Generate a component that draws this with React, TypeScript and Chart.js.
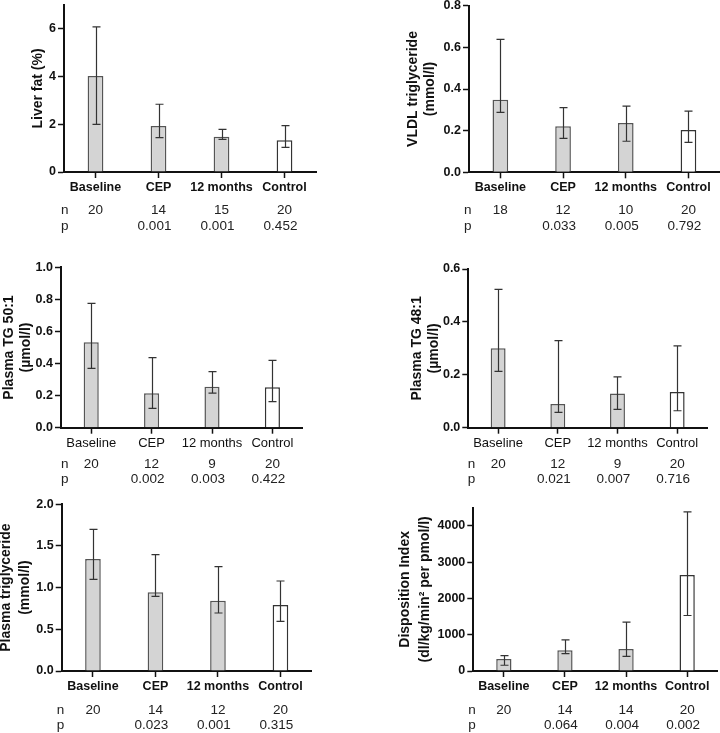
import React, { useEffect, useRef } from "react";
import { Chart, registerables } from "chart.js";

Chart.register(...registerables);

// ---------- DATA ----------
const categories = ["Baseline", "CEP", "12 months", "Control"];

const liverFatMean = [4.02, 1.93, 1.48, 1.33];
const liverFatHigh = [6.08, 2.84, 1.79, 1.94];
const liverFatLow = [2.0, 1.44, 1.37, 1.03];
const liverFatN = ["20", "14", "15", "20"];
const liverFatP = ["", "0.001", "0.001", "0.452"];
const liverFatTicks = [0, 2, 4, 6];

const vldlMean = [0.348, 0.221, 0.237, 0.203];
const vldlHigh = [0.638, 0.311, 0.318, 0.294];
const vldlLow = [0.288, 0.163, 0.149, 0.144];
const vldlN = ["18", "12", "10", "20"];
const vldlP = ["", "0.033", "0.005", "0.792"];
const vldlTicks = [0, 0.2, 0.4, 0.6, 0.8];

const tg501Mean = [0.532, 0.214, 0.256, 0.252];
const tg501High = [0.775, 0.437, 0.349, 0.42];
const tg501Low = [0.37, 0.12, 0.216, 0.162];
const tg501N = ["20", "12", "9", "20"];
const tg501P = ["", "0.002", "0.003", "0.422"];
const tg501Ticks = [0, 0.2, 0.4, 0.6, 0.8, 1.0];

const tg481Mean = [0.3, 0.09, 0.129, 0.135];
const tg481High = [0.523, 0.329, 0.192, 0.309];
const tg481Low = [0.213, 0.058, 0.069, 0.064];
const tg481N = ["20", "12", "9", "20"];
const tg481P = ["", "0.021", "0.007", "0.716"];
const tg481Ticks = [0, 0.2, 0.4, 0.6];

const plasmaTgMean = [1.344, 0.944, 0.844, 0.792];
const plasmaTgHigh = [1.7, 1.396, 1.252, 1.08];
const plasmaTgLow = [1.1, 0.896, 0.696, 0.596];
const plasmaTgN = ["20", "14", "12", "20"];
const plasmaTgP = ["", "0.023", "0.001", "0.315"];
const plasmaTgTicks = [0, 0.5, 1.0, 1.5, 2.0];

const diMean = [332, 573, 608, 2645];
const diHigh = [423, 857, 1346, 4387];
const diLow = [158, 479, 405, 1530];
const diN = ["20", "14", "14", "20"];
const diP = ["", "0.064", "0.004", "0.002"];
const diTicks = [0, 1000, 2000, 3000, 4000];

// ---------- STYLE ----------
const FONT = '"Liberation Sans", Arial, Helvetica, sans-serif';
const INK = "#111111";
const barFills = ["#d4d4d4", "#d4d4d4", "#d4d4d4", "#ffffff"];
const barBorders = ["#555555", "#555555", "#555555", "#333333"];

type PanelCfg = {
  title: string[];
  titleLH: number;
  titleC1: number;
  mean: number[];
  high: number[];
  low: number[];
  n: string[];
  p: string[];
  yMax: number;
  yTicks: number[];
  yFmt: (v: number) => string;
  boldCats: boolean;
  canvas: { left: number; top: number; w: number; h: number };
  area: { l: number; t: number; r: number; b: number };
  nLabelDx: number;
  nDy: number;
  pDy: number;
};

const f1 = (v: number) => v.toFixed(1);
const f0 = (v: number) => String(Math.round(v));

const panels: PanelCfg[] = [
  {
    title: ["Liver fat (%)"], titleLH: 16.8, titleC1: 38.5,
    mean: liverFatMean, high: liverFatHigh, low: liverFatLow, n: liverFatN, p: liverFatP,
    yMax: 7, yTicks: liverFatTicks, yFmt: f0, boldCats: true,
    canvas: { left: 0, top: -10, w: 360, h: 250 },
    area: { l: 64, t: 5, r: 316, b: 172 },
    nLabelDx: -3, nDy: 38.7, pDy: 54.7,
  },
  {
    title: ["VLDL triglyceride", "(mmol/l)"], titleLH: 17, titleC1: 413.5,
    mean: vldlMean, high: vldlHigh, low: vldlLow, n: vldlN, p: vldlP,
    yMax: 0.8, yTicks: vldlTicks, yFmt: f1, boldCats: true,
    canvas: { left: 360, top: -10, w: 380, h: 250 },
    area: { l: 469, t: 5.7, r: 719.8, b: 172.3 },
    nLabelDx: -5, nDy: 38.4, pDy: 54.4,
  },
  {
    title: ["Plasma TG 50:1", "(µmol/l)"], titleLH: 16.5, titleC1: 9.5,
    mean: tg501Mean, high: tg501High, low: tg501Low, n: tg501N, p: tg501P,
    yMax: 1.0, yTicks: tg501Ticks, yFmt: f1, boldCats: false,
    canvas: { left: 0, top: 240, w: 360, h: 250 },
    area: { l: 61, t: 267.3, r: 302.6, b: 427.7 },
    nLabelDx: 0, nDy: 36.3, pDy: 52,
  },
  {
    title: ["Plasma TG 48:1", "(µmol/l)"], titleLH: 17, titleC1: 417.2,
    mean: tg481Mean, high: tg481High, low: tg481Low, n: tg481N, p: tg481P,
    yMax: 0.6, yTicks: tg481Ticks, yFmt: f1, boldCats: false,
    canvas: { left: 360, top: 240, w: 360, h: 250 },
    area: { l: 468.3, t: 269, r: 707, b: 427.7 },
    nLabelDx: -0.5, nDy: 36.3, pDy: 52,
  },
  {
    title: ["Plasma triglyceride", "(mmol/l)"], titleLH: 19.5, titleC1: 6,
    mean: plasmaTgMean, high: plasmaTgHigh, low: plasmaTgLow, n: plasmaTgN, p: plasmaTgP,
    yMax: 2.0, yTicks: plasmaTgTicks, yFmt: f1, boldCats: true,
    canvas: { left: -10, top: 490, w: 370, h: 243 },
    area: { l: 61.7, t: 504.3, r: 311.7, b: 671 },
    nLabelDx: -5, nDy: 39, pDy: 54,
  },
  {
    title: ["Disposition Index", "(dl/kg/min² per pmol/l)"], titleLH: 20, titleC1: 405,
    mean: diMean, high: diHigh, low: diLow, n: diN, p: diP,
    yMax: 4500, yTicks: diTicks, yFmt: f0, boldCats: true,
    canvas: { left: 360, top: 490, w: 380, h: 243 },
    area: { l: 473.3, t: 507.7, r: 717.7, b: 671 },
    nLabelDx: -5, nDy: 39, pDy: 54,
  },
];

function Panel({ cfg }: { cfg: PanelCfg }) {
  const ref = useRef<HTMLCanvasElement | null>(null);

  useEffect(() => {
    if (!ref.current) return;
    const { canvas, area } = cfg;
    const yAxisWidth = area.l - canvas.left;
    const xAxisHeight = canvas.top + canvas.h - area.b;
    const padTop = area.t - canvas.top;
    const padRight = canvas.left + canvas.w - area.r;
    const titlePad = cfg.titleC1 - canvas.left - cfg.titleLH / 2;

    const errorBars = {
      id: "errorBars",
      afterDatasetsDraw(chart: any) {
        const { ctx, scales } = chart;
        const xs = scales.x;
        const ys = scales.y;
        ctx.save();
        ctx.strokeStyle = "#333333";
        ctx.lineWidth = 1.2;
        const cap = 4;
        cfg.mean.forEach((_, i) => {
          const x = Math.round(xs.getPixelForValue(i)) + 0.5;
          const yh = ys.getPixelForValue(cfg.high[i]);
          const yl = ys.getPixelForValue(cfg.low[i]);
          ctx.beginPath();
          ctx.moveTo(x, yh);
          ctx.lineTo(x, yl);
          ctx.moveTo(x - cap, yh);
          ctx.lineTo(x + cap, yh);
          ctx.moveTo(x - cap, yl);
          ctx.lineTo(x + cap, yl);
          ctx.stroke();
        });
        ctx.restore();
      },
    };

    const npRows = {
      id: "npRows",
      afterDraw(chart: any) {
        const { ctx, scales, chartArea } = chart;
        const xs = scales.x;
        const base = chartArea.bottom;
        ctx.save();
        ctx.fillStyle = "#222222";
        ctx.font = `13.5px ${FONT}`;
        ctx.textBaseline = "middle";
        ctx.textAlign = "left";
        ctx.fillText("n", chartArea.left + cfg.nLabelDx, base + cfg.nDy);
        ctx.fillText("p", chartArea.left + cfg.nLabelDx, base + cfg.pDy);
        ctx.textAlign = "center";
        categories.forEach((_, i) => {
          const x = xs.getPixelForValue(i);
          ctx.fillText(cfg.n[i], x, base + cfg.nDy);
          if (cfg.p[i]) ctx.fillText(cfg.p[i], x - 4, base + cfg.pDy);
        });
        ctx.restore();
      },
    };

    const chart = new Chart(ref.current, {
      type: "bar",
      data: {
        datasets: [
          {
            data: cfg.mean.map((v, i) => ({ x: i, y: v })),
            backgroundColor: barFills,
            borderColor: barBorders,
            borderWidth: 1.5,
            barPercentage: 0.25,
            categoryPercentage: 1,
          } as any,
        ],
      },
      options: {
        responsive: false,
        maintainAspectRatio: false,
        animation: false,
        events: [],
        layout: { padding: { left: 0, top: padTop, right: padRight, bottom: 0 } },
        plugins: {
          legend: { display: false },
          tooltip: { enabled: false },
          title: { display: false },
        },
        scales: {
          x: {
            type: "linear",
            min: -0.5,
            max: 3.5,
            offset: false,
            grid: {
              offset: false,
              drawOnChartArea: false,
              drawTicks: true,
              tickLength: 6,
              tickWidth: 1.5,
              tickColor: INK,
              color: INK,
            },
            border: { display: true, color: INK, width: 2 },
            afterBuildTicks: (s: any) => {
              s.ticks = categories.map((_, i) => ({ value: i }));
            },
            afterFit: (s: any) => {
              s.height = xAxisHeight;
            },
            ticks: {
              autoSkip: false,
              maxRotation: 0,
              padding: 2,
              color: INK,
              font: cfg.boldCats
                ? { family: FONT, size: 12.5, weight: "bold" }
                : { family: FONT, size: 13, weight: "normal" },
              callback: (v: any) => categories[v as number] ?? "",
            },
          },
          y: {
            type: "linear",
            min: 0,
            max: cfg.yMax,
            grid: {
              drawOnChartArea: false,
              drawTicks: true,
              tickLength: 6,
              tickWidth: 1.5,
              tickColor: INK,
              color: INK,
            },
            border: { display: true, color: INK, width: 2 },
            afterBuildTicks: (s: any) => {
              s.ticks = cfg.yTicks.map((v) => ({ value: v }));
            },
            afterFit: (s: any) => {
              s.width = yAxisWidth;
            },
            ticks: {
              autoSkip: false,
              padding: 2,
              color: INK,
              font: { family: FONT, size: 12.5, weight: "bold" },
              callback: (v: any) => cfg.yFmt(Number(v)),
            },
            title: {
              display: true,
              text: cfg.title,
              color: INK,
              font: { family: FONT, size: 14, weight: "bold", lineHeight: cfg.titleLH / 14 },
              padding: { top: titlePad, bottom: 0 },
            },
          },
        },
      } as any,
      plugins: [errorBars, npRows],
    });
    return () => chart.destroy();
  }, [cfg]);

  return (
    <canvas
      ref={ref}
      width={cfg.canvas.w}
      height={cfg.canvas.h}
      style={{
        position: "absolute",
        left: cfg.canvas.left,
        top: cfg.canvas.top,
        width: cfg.canvas.w,
        height: cfg.canvas.h,
      }}
    />
  );
}

export default function App() {
  return (
    <div
      style={{
        position: "absolute",
        left: 0,
        top: 0,
        width: 720,
        height: 733,
        overflow: "hidden",
        background: "#ffffff",
      }}
    >
      {panels.map((p, i) => (
        <Panel key={i} cfg={p} />
      ))}
    </div>
  );
}
